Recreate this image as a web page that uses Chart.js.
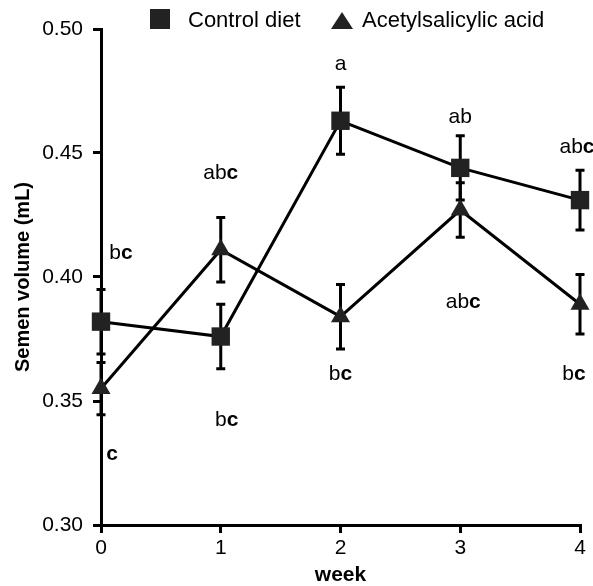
<!DOCTYPE html>
<html>
<head>
<meta charset="utf-8">
<script src="https://cdn.jsdelivr.net/npm/chart.js@4/dist/chart.umd.min.js"></script>
<style>
  html, body { margin: 0; padding: 0; background: #fff; }
  #wrap { width: 593px; height: 586px; }
</style>
</head>
<body>
<div id="wrap"><canvas id="c" width="593" height="586"></canvas></div>
<script>
// Semen volume by week, mean and standard error for each diet
const weeks = [0, 1, 2, 3, 4];
const controlMean = [0.382, 0.376, 0.463, 0.444, 0.431];
const controlSE   = [0.013, 0.013, 0.0135, 0.013, 0.012];
const aspirinMean = [0.355, 0.411, 0.384, 0.427, 0.389];
const aspirinSE   = [0.0105, 0.013, 0.013, 0.011, 0.012];
const yTicks = [0.30, 0.35, 0.40, 0.45, 0.50];
const xTicks = [0, 1, 2, 3, 4];

// significance letters per week
const controlLetters = ['bc', 'bc', 'a', 'ab', 'abc'];
const aspirinLetters = ['c', 'abc', 'bc', 'abc', 'bc'];

// where each letter group sits (y in axis units, dx in pixels)
const controlLetterPlace = [
  { y: 0.4095, dx: 20 }, { y: 0.3421, dx: 6 }, { y: 0.486, dx: 0 },
  { y: 0.4643, dx: 0 }, { y: 0.4522, dx: -3 }
];
const aspirinLetterPlace = [
  { y: 0.3287, dx: 11 }, { y: 0.4417, dx: 0 }, { y: 0.361, dx: 0 },
  { y: 0.3897, dx: 3 }, { y: 0.361, dx: -6 }
];

const INK = '#000';
const MARK = '#222';
const FONT = '"Liberation Sans", Arial, Helvetica, sans-serif';

const toXY = (means) => weeks.map((w, i) => ({ x: w, y: means[i] }));

// vertical error bars with short caps
const errorBars = {
  id: 'errorBars',
  beforeDatasetsDraw(chart) {
    const { ctx, scales: { x, y } } = chart;
    const sets = [[controlMean, controlSE], [aspirinMean, aspirinSE]];
    ctx.save();
    ctx.strokeStyle = INK;
    ctx.lineWidth = 3;
    ctx.lineCap = 'butt';
    sets.forEach(([m, se]) => {
      weeks.forEach((w, i) => {
        const px = x.getPixelForValue(w);
        const top = y.getPixelForValue(m[i] + se[i]);
        const bot = y.getPixelForValue(m[i] - se[i]);
        ctx.beginPath();
        ctx.moveTo(px, top); ctx.lineTo(px, bot);
        ctx.moveTo(px - 4.5, top); ctx.lineTo(px + 4.5, top);
        ctx.moveTo(px - 4.5, bot); ctx.lineTo(px + 4.5, bot);
        ctx.stroke();
      });
    });
    ctx.restore();
  }
};

// letter groups; the letter c is set in bold
const letters = {
  id: 'letters',
  afterDatasetsDraw(chart) {
    const { ctx, scales: { x, y } } = chart;
    ctx.save();
    ctx.fillStyle = INK;
    ctx.textBaseline = 'middle';
    const draw = (text, cx, cy) => {
      const parts = text.split('').map(ch => ({
        ch, font: (ch === 'c' ? 'bold ' : '') + '21px ' + FONT
      }));
      let total = 0;
      parts.forEach(p => { ctx.font = p.font; p.w = ctx.measureText(p.ch).width; total += p.w; });
      let cur = cx - total / 2;
      ctx.textAlign = 'left';
      parts.forEach(p => { ctx.font = p.font; ctx.fillText(p.ch, cur, cy); cur += p.w; });
    };
    weeks.forEach((w, i) => {
      draw(controlLetters[i], x.getPixelForValue(w) + controlLetterPlace[i].dx, y.getPixelForValue(controlLetterPlace[i].y));
      draw(aspirinLetters[i], x.getPixelForValue(w) + aspirinLetterPlace[i].dx, y.getPixelForValue(aspirinLetterPlace[i].y));
    });
    ctx.restore();
  }
};

// legend across the top
const topLegend = {
  id: 'topLegend',
  afterDraw(chart) {
    const ctx = chart.ctx;
    ctx.save();
    ctx.fillStyle = MARK;
    ctx.fillRect(150, 9, 20, 20);
    ctx.beginPath();
    ctx.moveTo(342, 12); ctx.lineTo(353, 29); ctx.lineTo(331, 29); ctx.closePath();
    ctx.fill();
    ctx.fillStyle = INK;
    ctx.font = '22px ' + FONT;
    ctx.textAlign = 'left';
    ctx.textBaseline = 'alphabetic';
    ctx.fillText('Control diet', 188, 27);
    ctx.fillText('Acetylsalicylic acid', 362, 27);
    ctx.restore();
  }
};

new Chart(document.getElementById('c'), {
  type: 'line',
  data: {
    datasets: [
      {
        label: 'Control diet',
        data: toXY(controlMean),
        borderColor: INK,
        borderWidth: 3,
        pointStyle: 'rect',
        pointRadius: 13,
        pointBackgroundColor: MARK,
        pointBorderColor: MARK,
        pointBorderWidth: 0,
        tension: 0,
        clip: false
      },
      {
        label: 'Acetylsalicylic acid',
        data: toXY(aspirinMean),
        borderColor: INK,
        borderWidth: 3,
        pointStyle: 'triangle',
        pointRadius: 11,
        pointBackgroundColor: MARK,
        pointBorderColor: MARK,
        pointBorderWidth: 0,
        tension: 0,
        clip: false
      }
    ]
  },
  options: {
    responsive: false,
    animation: false,
    devicePixelRatio: 1,
    layout: { padding: { left: 0, right: 13, top: 29, bottom: 0 } },
    plugins: {
      legend: { display: false },
      tooltip: { enabled: false }
    },
    scales: {
      x: {
        type: 'linear',
        min: 0, max: 4,
        afterBuildTicks(scale) { scale.ticks = xTicks.map(v => ({ value: v })); },
        afterFit(scale) { scale.height = 61; },
        grid: { drawOnChartArea: false, drawTicks: true, tickLength: 8, tickWidth: 3, tickColor: INK, lineWidth: 3, color: INK },
        border: { display: true, color: INK, width: 3 },
        ticks: { color: INK, font: { family: FONT, size: 21 }, padding: 3, callback: v => String(v) },
        title: { display: true, text: 'week', color: INK, font: { family: FONT, size: 21, weight: 'bold', lineHeight: 1 }, padding: { top: 0, bottom: 0 } }
      },
      y: {
        min: 0.30, max: 0.50,
        afterBuildTicks(scale) { scale.ticks = yTicks.map(v => ({ value: v })); },
        afterFit(scale) { scale.width = 101; },
        grid: { drawOnChartArea: false, drawTicks: true, tickLength: 8, tickWidth: 3, tickColor: INK, lineWidth: 3, color: INK },
        border: { display: true, color: INK, width: 3 },
        ticks: { color: INK, font: { family: FONT, size: 21 }, padding: 10, callback: v => Number(v).toFixed(2) },
        title: { display: true, text: 'Semen volume (mL)', color: INK, font: { family: FONT, size: 20, weight: 'bold', lineHeight: 1 }, padding: { top: 13, bottom: 0 } }
      }
    }
  },
  plugins: [errorBars, letters, topLegend]
});
</script>
</body>
</html>
